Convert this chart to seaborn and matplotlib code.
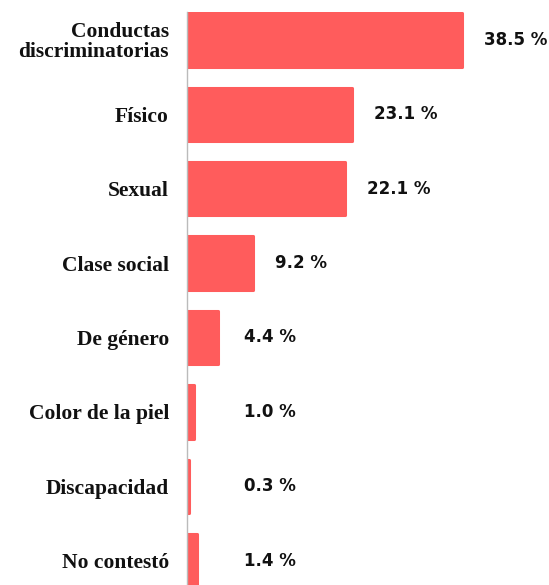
import matplotlib
matplotlib.use("Agg")
import matplotlib.pyplot as plt
import seaborn as sns
import pandas as pd

categories = ["Conductas\ndiscriminatorias", "Físico", "Sexual", "Clase social",
              "De género", "Color de la piel", "Discapacidad", "No contestó"]
values = [38.5, 23.1, 22.1, 9.2, 4.4, 1.0, 0.3, 1.4]
value_labels = ["38.5 %", "23.1 %", "22.1 %", "9.2 %", "4.4 %", "1.0 %", "0.3 %", "1.4 %"]

df = pd.DataFrame({"cat": categories, "val": values})

sns.set_style("white")
W, H = 549, 585
fig = plt.figure(figsize=(W / 100, H / 100), dpi=100)
left_px, top_px = 187, 12
ax = fig.add_axes([left_px / W, 0, 1 - left_px / W, 1 - top_px / H])

bar_color = "#FF5C5C"
sns.barplot(data=df, y="cat", x="val", orient="h", color=bar_color,
            width=0.72, saturation=1, ax=ax)
for p in ax.patches:
    p.set_edgecolor(bar_color)
    p.set_linewidth(2.2)
    p.set_joinstyle("round")

px_per_unit = 7.14
ax.set_xlim(0, (W - left_px) / px_per_unit)
ax.set_ylim(-0.375 + (H - top_px) / 74.4, -0.375)

for i, (v, lab) in enumerate(zip(values, value_labels)):
    xpos = max(v + 22 / px_per_unit, 57 / px_per_unit)
    ax.text(xpos, i, lab, va="center", ha="left", fontsize=12,
            fontweight="bold", family="DejaVu Sans", color="#111111", clip_on=False)

ax.set_xlabel("")
ax.set_ylabel("")
ax.set_xticks([])
for s in ["top", "right", "bottom"]:
    ax.spines[s].set_visible(False)
ax.spines["left"].set_color("#bbbbbb")
ax.spines["left"].set_linewidth(1)
ax.tick_params(axis="y", length=0, pad=13)
for t in ax.get_yticklabels():
    t.set_fontfamily("Liberation Serif")
    t.set_fontweight("bold")
    t.set_fontsize(15.5)
    t.set_color("#111111")
    t.set_linespacing(0.95)
    t.set_multialignment("right")

fig.savefig("out.png", dpi=100, facecolor="white")
